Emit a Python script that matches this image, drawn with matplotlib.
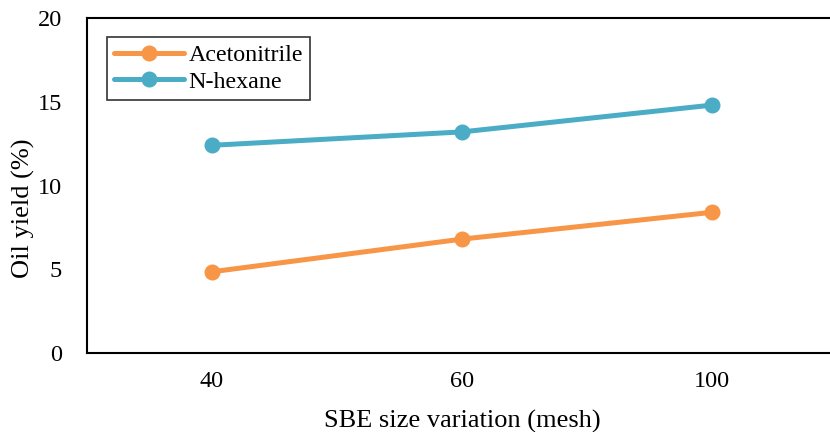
import matplotlib
matplotlib.use("Agg")
import matplotlib.pyplot as plt

categories = ["40", "60", "100"]
acetonitrile = [4.85, 6.8, 8.4]
n_hexane = [12.4, 13.2, 14.8]
yticks = [0, 5, 10, 15, 20]

plt.rcParams['font.family'] = ['Liberation Serif', 'DejaVu Serif']

fig = plt.figure(figsize=(8.3, 4.32), dpi=100)
ax = fig.add_axes([87/830, 1-353/432, 750/830, (353-18)/432])

x = list(range(len(categories)))
ax.plot(x, acetonitrile, color='#F79646', lw=3.6, marker='o', ms=10.5, label='Acetonitrile', solid_capstyle='round')
ax.plot(x, n_hexane, color='#4BACC6', lw=3.6, marker='o', ms=10.5, label='N-hexane', solid_capstyle='round')

ax.set_xlim(-0.5, 2.5)
ax.set_ylim(0, 20)
ax.set_xticks(x)
ax.set_xticklabels(categories)
ax.set_yticks(yticks)
ax.tick_params(length=0, labelsize=17.5, pad=13)
ax.tick_params(axis='y', pad=18)
for s in ['left', 'bottom', 'top', 'right']:
    ax.spines[s].set_linewidth(1.5)
ax.set_xlabel('SBE size variation (mesh)', fontsize=19, labelpad=13)
ax.set_ylabel('Oil yield (%)', fontsize=19, labelpad=0)
ax.yaxis.set_label_coords(-52/750, 0.433)

leg = ax.legend(loc='upper left', bbox_to_anchor=(20/750, 1-19/335), fontsize=17.3,
                frameon=True, fancybox=False, edgecolor='black', handlelength=2.9,
                borderpad=0.3, labelspacing=0.2, handletextpad=0.2, borderaxespad=0)
leg.get_frame().set_linewidth(1.2)

fig.savefig('out.png', dpi=100)
